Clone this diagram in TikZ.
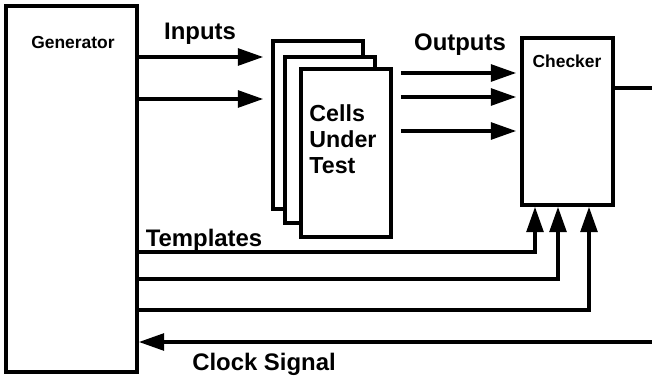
\documentclass[tikz,border=0pt]{standalone}
\usepackage{fontspec}
\setmainfont{Liberation Sans}
\usetikzlibrary{arrows.meta,positioning,calc}

\begin{document}
\begin{tikzpicture}[x=0.025cm, y=-0.025cm,
    box/.style={rectangle, draw=black, fill=white, line width=2.6pt, inner sep=0pt},
    arr/.style={-{Triangle[length=18pt, width=12pt]}, line width=2.3pt, black},
    lbl/.style={font=\fontsize{17pt}{20pt}\selectfont\bfseries, inner sep=0pt},
    ttl/.style={font=\fontsize{12.4pt}{15pt}\selectfont\bfseries, inner sep=0pt}]
    \useasboundingbox (0,0) rectangle (652,381);
    % blocks
    \node[box, minimum width=3.275cm, minimum height=9.15cm] (gen) at (71.5,189) {};
    \node[ttl] at (73,42) {Generator};
    \node[box, minimum width=2.25cm, minimum height=4.2cm] (cutA) at (318,125) {};
    \node[box, minimum width=2.25cm, minimum height=4.15cm] (cutB) at (330,140) {};
    \node[box, minimum width=2.25cm, minimum height=4.2cm] (cutC) at (346,153) {};
    \node[font=\fontsize{16.5pt}{18.6pt}\selectfont\bfseries, align=left, inner sep=0pt]
        (cuttxt) at (343,139) {Cells\\Under\\Test};
    \node[box, minimum width=2.275cm, minimum height=4.175cm] (chk) at (567.5,121.5) {};
    \node[ttl] at (567,61) {Checker};
    \coordinate (chkout) at (652,88);
    \coordinate (clkin) at (652,342);
    % inputs
    \draw[arr, shorten >=0.2cm] (gen.east |- 0,57) -- (cutA.west |- 0,57);
    \draw[arr, shorten >=0.2cm] (gen.east |- 0,99) -- (cutA.west |- 0,99);
    \node[lbl] at (200,34) {Inputs};
    % outputs
    \foreach \yy in {73,97,131}
        \draw[arr, shorten <=0.2cm, shorten >=0.1cm] (cutC.east |- 0,\yy) -- (chk.west |- 0,\yy);
    \node[lbl] at (460,45) {Outputs};
    \draw[line width=2.3pt] (chk.east |- chkout) -- (chkout);
    % templates
    \draw[arr] (gen.east |- 0,252) -| (chk.south -| 535,0);
    \draw[arr] (gen.east |- 0,279) -| (chk.south -| 558,0);
    \draw[arr] (gen.east |- 0,310) -| (chk.south -| 589,0);
    \node[lbl] at (204,240) {Templates};
    % clock
    \draw[arr] (clkin) -- (gen.east |- clkin);
    \node[lbl] at (264,364) {Clock Signal};
\end{tikzpicture}
\end{document}
